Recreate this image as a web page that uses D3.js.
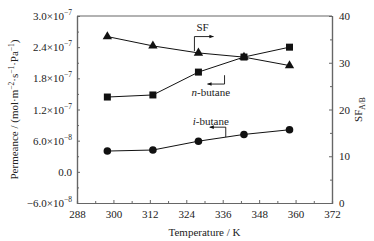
<!DOCTYPE html>
<html>
<head>
<meta charset="utf-8">
<script src="https://cdn.jsdelivr.net/npm/d3@7"></script>
<style>
  body { margin: 0; background: #fff; }
  text { font-family: "Liberation Serif", "DejaVu Serif", serif; fill: #222; }
</style>
</head>
<body>
<div id="chart"></div>
<script>
// Data
const temperature = [298, 313, 328, 343, 358];
const nButane = [1.44e-7, 1.48e-7, 1.92e-7, 2.21e-7, 2.40e-7];
const iButane = [4.0e-8, 4.2e-8, 5.9e-8, 7.2e-8, 8.1e-8];
const sf = [35.6, 33.6, 32.1, 31.2, 29.4];

const xTicks = [288, 300, 312, 324, 336, 348, 360, 372];
const yTicks = [-6e-8, 0, 6e-8, 1.2e-7, 1.8e-7, 2.4e-7, 3e-7];
const yTickLabels = ["-6.0", "0.0", "6.0", "1.2", "1.8", "2.4", "3.0"];
const yTickExp = ["-8", null, "-8", "-7", "-7", "-7", "-7"];
const y2Ticks = [0, 10, 20, 30, 40];

const margin = { top: 16, right: 42, bottom: 38, left: 77 },
      W = 374, H = 241,
      width = W - margin.left - margin.right,
      height = H - margin.top - margin.bottom;

const x = d3.scaleLinear().domain([288, 372]).range([0, width]);
const y = d3.scaleLinear().domain([-6e-8, 3e-7]).range([height, 0]);
const y2 = d3.scaleLinear().domain([0, 40]).range([height, 0]);

const svg = d3.select("#chart").append("svg")
    .attr("width", W).attr("height", H)
  .append("g")
    .attr("transform", "translate(" + margin.left + "," + margin.top + ")");

const axisColor = "#666";

// Bottom axis (ticks inward) + minor ticks
svg.append("g")
    .attr("transform", "translate(0," + height + ")")
    .call(d3.axisBottom(x).tickValues(xTicks).tickSizeInner(-3).tickSizeOuter(0).tickPadding(7).tickFormat(d3.format("d")));
svg.append("g")
    .attr("transform", "translate(0," + height + ")")
    .call(d3.axisBottom(x).tickValues(d3.range(294, 372, 12)).tickSize(-2).tickFormat(""));

// Left axis
svg.append("g")
    .call(d3.axisLeft(y).tickValues(yTicks).tickSizeInner(-3).tickSizeOuter(0).tickFormat(""));
svg.append("g")
    .call(d3.axisLeft(y).tickValues(d3.range(-3e-8, 3e-7, 6e-8)).tickSize(-2).tickFormat(""));

// Right axis
svg.append("g")
    .attr("transform", "translate(" + width + ",0)")
    .call(d3.axisRight(y2).tickValues(y2Ticks).tickSizeInner(-3).tickSizeOuter(0).tickPadding(7));
svg.append("g")
    .attr("transform", "translate(" + width + ",0)")
    .call(d3.axisRight(y2).tickValues([5, 15, 25, 35]).tickSize(-2).tickFormat(""));

// Top frame line
svg.append("line")
    .attr("x1", 0).attr("x2", width).attr("y1", 0).attr("y2", 0)
    .attr("stroke", axisColor).attr("stroke-width", 1.2);

svg.selectAll(".domain").attr("stroke", axisColor).attr("stroke-width", 1.2);
svg.selectAll(".tick line").attr("stroke", axisColor);
svg.selectAll(".tick text").style("font-size", "11px").attr("fill", "#222");

// Left tick labels with exponent
yTicks.forEach((v, i) => {
  const t = svg.append("text")
      .attr("x", -5)
      .attr("y", y(v) + 4)
      .attr("text-anchor", "end")
      .style("font-size", "11px");
  if (yTickExp[i]) {
    t.append("tspan").text(yTickLabels[i].replace("-", "\u2212") + "\u00d710");
    t.append("tspan").attr("dy", -5).style("font-size", "7.5px")
      .text(yTickExp[i].replace("-", "\u2212"));
  } else {
    t.text(yTickLabels[i]);
  }
});

// Lines
const line1 = d3.line().x((d, i) => x(temperature[i])).y(d => y(d));
const line2 = d3.line().x((d, i) => x(temperature[i])).y(d => y2(d));

svg.append("path").datum(nButane).attr("fill", "none").attr("stroke", "#111").attr("stroke-width", 1).attr("d", line1);
svg.append("path").datum(iButane).attr("fill", "none").attr("stroke", "#111").attr("stroke-width", 1).attr("d", line1);
svg.append("path").datum(sf).attr("fill", "none").attr("stroke", "#111").attr("stroke-width", 1).attr("d", line2);

// Markers
svg.selectAll(".sq").data(nButane).enter().append("rect")
    .attr("x", (d, i) => x(temperature[i]) - 3.5)
    .attr("y", d => y(d) - 3.5)
    .attr("width", 7).attr("height", 7)
    .attr("fill", "#111");

svg.selectAll(".ci").data(iButane).enter().append("circle")
    .attr("cx", (d, i) => x(temperature[i]))
    .attr("cy", d => y(d))
    .attr("r", 3.8)
    .attr("fill", "#111");

svg.selectAll(".tri").data(sf).enter().append("path")
    .attr("transform", (d, i) => "translate(" + x(temperature[i]) + "," + y2(d) + ")")
    .attr("d", d3.symbol().type(d3.symbolTriangle).size(38))
    .attr("fill", "#111");

// Annotation arrows
svg.append("defs").append("marker")
    .attr("id", "ah").attr("viewBox", "0 0 10 10")
    .attr("refX", 9).attr("refY", 5)
    .attr("markerWidth", 5).attr("markerHeight", 5)
    .attr("orient", "auto")
  .append("path").attr("d", "M0,1 L10,5 L0,9 Z").attr("fill", "#111");

function bracket(points) {
  svg.append("path")
      .attr("d", d3.line()(points))
      .attr("fill", "none").attr("stroke", "#111").attr("stroke-width", 0.9)
      .attr("marker-end", "url(#ah)");
}

// SF: up from triangle, then right
const sfx = x(temperature[2]) - 4;
bracket([[sfx, y2(32.5)], [sfx, y2(35.6)], [sfx + 19, y2(35.6)]]);
svg.append("text").attr("x", sfx + 2).attr("y", y2(36.8))
    .style("font-size", "11px").text("SF");

// n-butane: down, then left
const nx = x(336.6);
bracket([[nx, y(1.86e-7)], [nx, y(1.69e-7)], [nx - 17, y(1.69e-7)]]);
svg.append("text").attr("x", nx - 33).attr("y", y(1.46e-7))
    .style("font-size", "11px")
    .call(t => {
      t.append("tspan").style("font-style", "italic").text("n");
      t.append("tspan").text("-butane");
    });

// i-butane: up from line, then left
const ix = x(337);
bracket([[ix, y(6.7e-8)], [ix, y(8.6e-8)], [ix - 16, y(8.6e-8)]]);
svg.append("text").attr("x", ix - 33).attr("y", y(9.1e-8))
    .style("font-size", "11px")
    .call(t => {
      t.append("tspan").style("font-style", "italic").text("i");
      t.append("tspan").text("-butane");
    });

// Axis titles
svg.append("text")
    .attr("x", width / 2).attr("y", height + 33)
    .attr("text-anchor", "middle").style("font-size", "11px")
    .text("Temperature / K");

const yl = svg.append("text")
    .attr("transform", "translate(" + (-59) + "," + (height / 2) + ") rotate(-90)")
    .attr("text-anchor", "middle").style("font-size", "11px");
yl.append("tspan").text("Permeance / (mol\u00b7m");
yl.append("tspan").attr("dy", -4).style("font-size", "7.5px").text("\u22122");
yl.append("tspan").attr("dy", 4).text("\u00b7s");
yl.append("tspan").attr("dy", -4).style("font-size", "7.5px").text("\u22121");
yl.append("tspan").attr("dy", 4).text("\u00b7Pa");
yl.append("tspan").attr("dy", -4).style("font-size", "7.5px").text("\u22121");
yl.append("tspan").attr("dy", 4).text(")");

const yr = svg.append("text")
    .attr("transform", "translate(" + (width + 30) + "," + (height / 2) + ") rotate(-90)")
    .attr("text-anchor", "middle").style("font-size", "11px");
yr.append("tspan").text("SF");
yr.append("tspan").attr("dy", 3).style("font-size", "7.5px").text("A/B");
</script>
</body>
</html>
